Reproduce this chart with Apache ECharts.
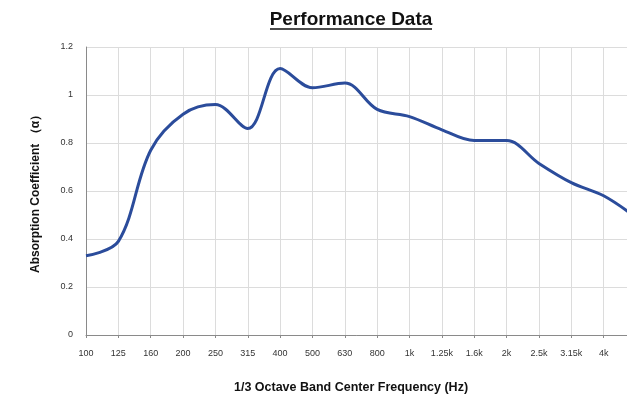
<!DOCTYPE html>
<html>
<head>
<meta charset="utf-8">
<script src="https://cdn.jsdelivr.net/npm/echarts@6/dist/echarts.min.js"></script>
<style>html,body{margin:0;padding:0;background:#fff;}#c{width:627px;height:402px;}</style>
</head>
<body>
<div id="c"></div>
<script>
var categories = ['100','125','160','200','250','315','400','500','630','800','1k','1.25k','1.6k','2k','2.5k','3.15k','4k','5k'];
var absorption = [0.33,0.39,0.77,0.92,0.96,0.86,1.11,1.03,1.05,0.94,0.91,0.855,0.81,0.81,0.715,0.635,0.58,0.49];
var yTicks = [0, 0.2, 0.4, 0.6, 0.8, 1, 1.2];
var titleText = 'Performance Data';
var xName = '1/3 Octave Band Center Frequency (Hz)';
var yName = 'Absorption Coefficient \uFF08\u03B1\uFF09';

var chart = echarts.init(document.getElementById('c'), null, {renderer: 'canvas'});
var font = '"Liberation Sans", Arial, sans-serif';
chart.setOption({
  animation: false,
  backgroundColor: '#fff',
  graphic: [{
    type: 'text',
    x: 351, y: 10,
    style: {text: titleText, fontFamily: font, fontSize: 19, fontWeight: 'bold', fill: '#111', textAlign: 'center', textVerticalAlign: 'top'}
  }, {
    type: 'line',
    shape: {x1: 270, y1: 29, x2: 432, y2: 29},
    style: {stroke: '#111', lineWidth: 1.5}
  }],
  grid: {left: 86, width: 550, top: 47, bottom: 67, outerBoundsMode: 'none', containLabel: false},
  xAxis: {
    type: 'category',
    data: categories,
    boundaryGap: false,
    name: xName,
    nameLocation: 'middle',
    nameGap: 46,
    nameTextStyle: {fontFamily: font, fontSize: 12.5, fontWeight: 'bold', color: '#111', padding: [0, 20, 0, 0]},
    axisLine: {lineStyle: {color: '#8a8a8a', width: 1}},
    axisTick: {show: true, length: 3, lineStyle: {color: '#8a8a8a'}},
    axisLabel: {fontFamily: font, fontSize: 9, color: '#333', margin: 14, interval: 0},
    splitLine: {show: true, lineStyle: {color: '#dcdcdc', width: 1}}
  },
  yAxis: {
    type: 'value',
    min: 0, max: 1.2, interval: 0.2,
    name: yName,
    nameLocation: 'middle',
    nameGap: 44,
    nameTextStyle: {fontFamily: font, fontSize: 12, fontWeight: 'bold', color: '#111'},
    axisLine: {show: true, lineStyle: {color: '#8a8a8a', width: 1}},
    axisTick: {show: false},
    axisLabel: {fontFamily: font, fontSize: 9, color: '#333', margin: 13,
      formatter: function (v) { return yTicks.indexOf(Math.round(v * 10) / 10) >= 0 ? String(Math.round(v * 10) / 10) : ''; }},
    splitLine: {show: true, lineStyle: {color: '#dcdcdc', width: 1}}
  },
  series: [{
    type: 'line',
    data: absorption,
    smooth: 0.35,
    symbol: 'none',
    clip: true,
    lineStyle: {color: '#2b4c9b', width: 3}
  }]
});
</script>
</body>
</html>
